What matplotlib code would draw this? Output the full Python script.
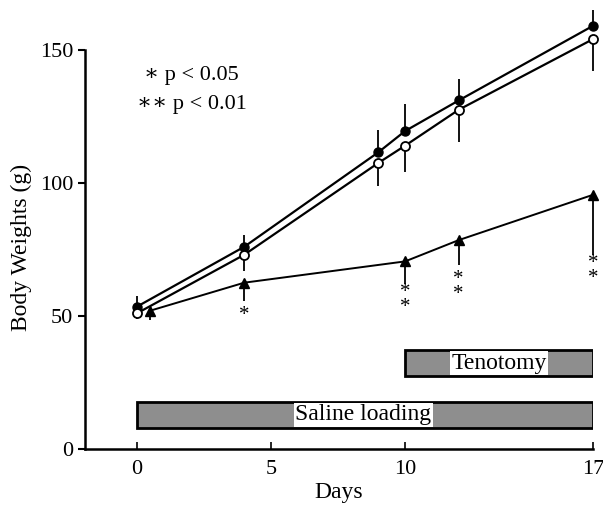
import matplotlib
matplotlib.use("Agg")
from matplotlib import pyplot as plt

plt.rcParams['font.family'] = ['Liberation Serif', 'DejaVu Serif']

# filled circles
days_f = [0, 4, 9, 10, 12, 17]
bw_f = [53.5, 76, 111.5, 119.5, 131, 159]
err_f = [4, 4.5, 8.5, 10, 8, 6]

# open circles
days_o = [0, 4, 9, 10, 12, 17]
bw_o = [51, 73, 107.5, 114, 127.5, 154]
err_o = [2, 6, 8.5, 10, 12, 12]

# triangles
days_t = [0.5, 4, 10, 12, 17]
bw_t = [52, 62.5, 70.5, 78.5, 95.5]
err_t = [3.5, 7, 8.5, 9.5, 22.5]

sig_days = [4, 10, 12, 17]
sig_marks = ['*', '*\n*', '*\n*', '*\n*']
sig_y = [50, 56, 61, 67]

bar_labels = ['Saline loading', 'Tenotomy']
bar_start = [0, 10]
bar_end = [17, 17]

fig = plt.figure(figsize=(6.03, 5.05), dpi=100)
ax = fig.add_axes([0.141, 0.111, 0.842, 0.885])

ax.errorbar(days_f, bw_f, yerr=[[0] * len(err_f), err_f], color='black', lw=1.6,
            marker='o', ms=6.5, mfc='black', mec='black', elinewidth=1.3, capsize=0,
            clip_on=False, zorder=4)
ax.errorbar(days_o, bw_o, yerr=[err_o, [0] * len(err_o)], color='black', lw=1.6,
            marker='o', ms=6.5, mfc='white', mec='black', mew=1.3, elinewidth=1.3,
            capsize=0, clip_on=False, zorder=4)
ax.errorbar(days_t, bw_t, yerr=[err_t, [0] * len(err_t)], color='black', lw=1.4,
            marker='^', ms=6.5, mfc='black', mec='black', elinewidth=1.3, capsize=0,
            clip_on=False, zorder=4)

for d, m, y in zip(sig_days, sig_marks, sig_y):
    ax.text(d, y, m, ha='center', va='center', fontsize=15, linespacing=0.7)

bar_y = [12.8, 32.2]
bar_x = [8.45, 13.5]
for lab, s, e, y, tx in zip(bar_labels, bar_start, bar_end, bar_y, bar_x):
    ax.barh(y, e - s, left=s, height=9.8, color='#8e8e8e', edgecolor='black',
            linewidth=2, zorder=2)
    ax.text(tx, y, lab, ha='center', va='center', fontsize=17, zorder=3,
            bbox=dict(facecolor='white', edgecolor='none', pad=1.0))

ax.text(0.25, 140.5, '∗ p < 0.05', fontsize=16, va='center', ha='left')
ax.text(0.0, 129.5, '∗∗ p < 0.01', fontsize=16, va='center', ha='left')

ax.set_xlim(-1.94, 17)
ax.set_ylim(0, 168)
ax.set_xticks([0, 5, 10, 17])
ax.set_yticks([0, 50, 100, 150])
ax.spines['top'].set_visible(False)
ax.spines['right'].set_visible(False)
ax.spines['left'].set_bounds(0, 150)
ax.spines['left'].set_linewidth(1.8)
ax.spines['bottom'].set_linewidth(1.8)
ax.tick_params(axis='x', direction='in', length=5, width=1.2, labelsize=16, pad=8)
ax.tick_params(axis='y', direction='out', length=5, width=1.5, labelsize=16)
ax.set_xlabel('Days', fontsize=17, labelpad=2)
ax.set_ylabel('Body Weights (g)', fontsize=17)
ax.yaxis.set_label_coords(-0.104, 0.45)

fig.savefig('out.png', dpi=100)
